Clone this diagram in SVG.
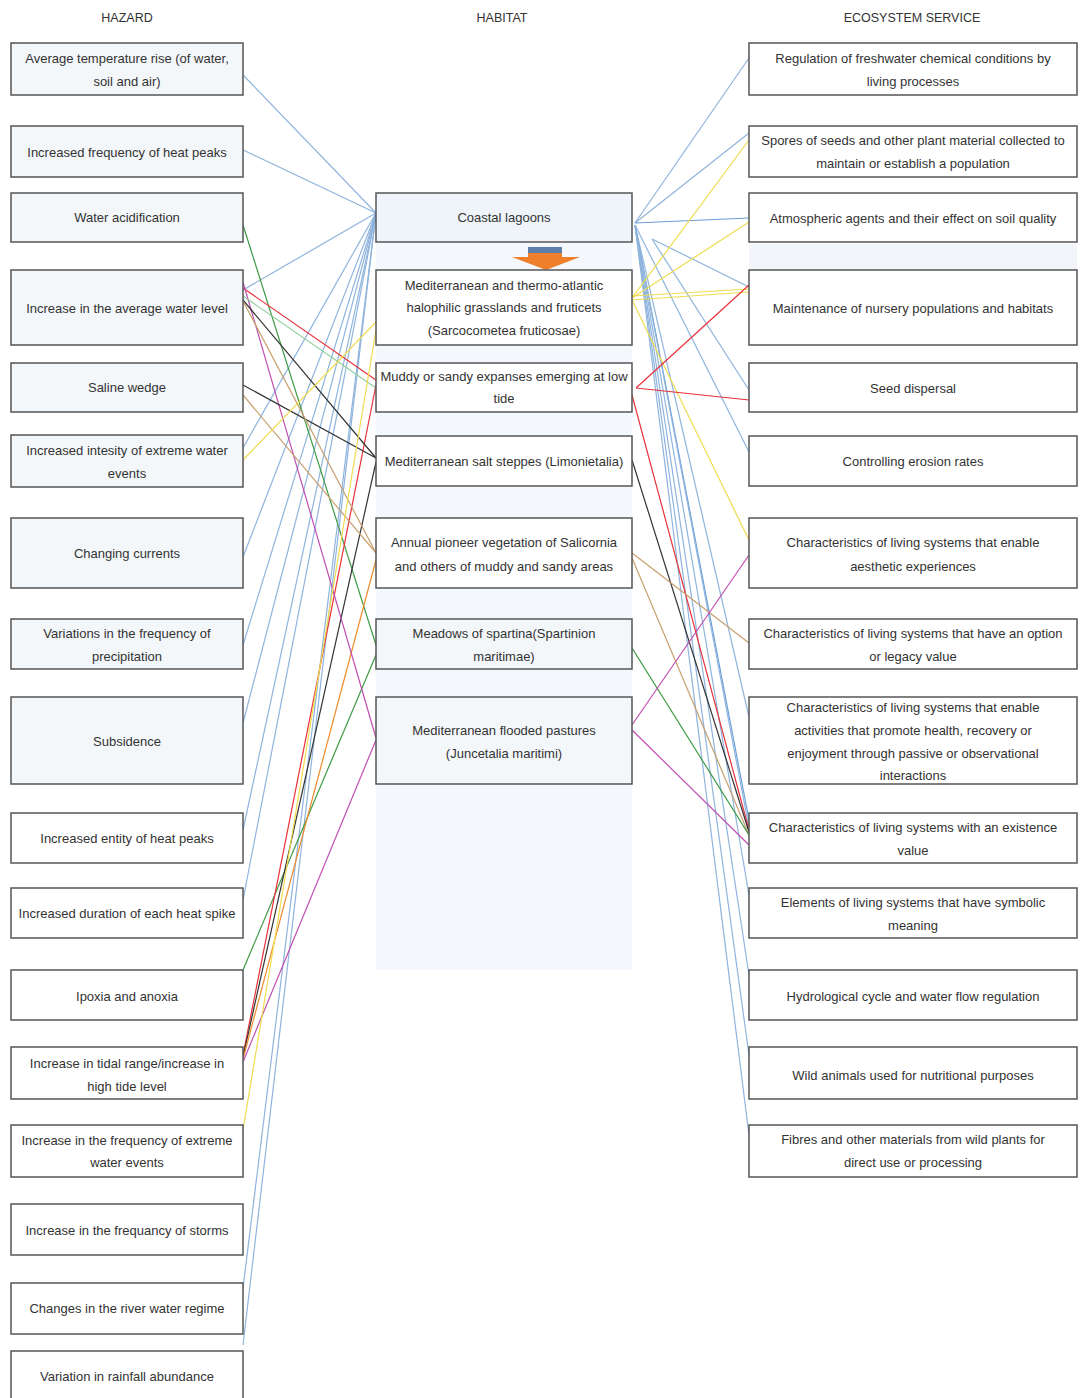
<svg xmlns="http://www.w3.org/2000/svg" width="1080" height="1398" viewBox="0 0 1080 1398">
<style>
text{font-family:"Liberation Sans",Arial,sans-serif;font-size:13px;fill:#333;text-anchor:middle;dominant-baseline:central}
.h{font-size:12.5px}
.box{stroke:#555;stroke-width:1.5;fill:#fff}
.lt{fill:#f4f7fa}
.lb{fill:#eef4fa}
#connectors line{stroke-width:1.2;fill:none}
.b{stroke:#8fb4dd}
.bd{stroke:#6a9fd8}
.g{stroke:#3f9a45}
.lg{stroke:#8fcf9a}
.r{stroke:#e8323a}
.k{stroke:#333}
.t{stroke:#c9a070}
.o{stroke:#ee8a2a}
.m{stroke:#c04fb0}
.y{stroke:#f0dc50}
</style>
<rect width="1080" height="1398" fill="#fff"/>
<rect x="376" y="242" width="256" height="728" fill="#f4f8fc"/>
<rect x="749" y="244" width="328" height="26" fill="#f2f6fb"/>
<text class="h" x="127" y="18">HAZARD</text>
<text class="h" x="502" y="18">HABITAT</text>
<text class="h" x="912" y="18">ECOSYSTEM SERVICE</text>

<g id="connectors">
<line class="b" x1="243" y1="75" x2="376" y2="213"/>
<line class="b" x1="243" y1="150" x2="376" y2="213"/>
<line class="b" x1="243" y1="290" x2="376" y2="213"/>
<line class="b" x1="243" y1="448" x2="376" y2="213"/>
<line class="b" x1="243" y1="557" x2="376" y2="213"/>
<line class="b" x1="243" y1="645" x2="376" y2="213"/>
<line class="b" x1="243" y1="723" x2="376" y2="213"/>
<line class="b" x1="243" y1="830" x2="376" y2="213"/>
<line class="b" x1="243" y1="900" x2="376" y2="213"/>
<line class="b" x1="243" y1="1288" x2="376" y2="213"/>
<line class="b" x1="243" y1="1345" x2="376" y2="213"/>
<line class="g" x1="243" y1="225" x2="376" y2="645"/>
<line class="g" x1="243" y1="970" x2="376" y2="655"/>
<line class="r" x1="243" y1="288" x2="376" y2="380"/>
<line class="r" x1="243" y1="1055" x2="376" y2="385"/>
<line class="k" x1="243" y1="1057" x2="376" y2="462"/>
<line class="o" x1="243" y1="1059" x2="376" y2="560"/>
<line class="m" x1="243" y1="282" x2="376" y2="738"/>
<line class="m" x1="243" y1="1062" x2="376" y2="740"/>
<line class="k" x1="243" y1="300" x2="376" y2="458"/>
<line class="k" x1="243" y1="385" x2="376" y2="458"/>
<line class="t" x1="243" y1="301" x2="376" y2="553"/>
<line class="t" x1="243" y1="395" x2="376" y2="553"/>
<line class="lg" x1="243" y1="296" x2="376" y2="388"/>
<line class="y" x1="243" y1="460" x2="376" y2="322"/>
<line class="y" x1="243" y1="1130" x2="376" y2="330"/>
<line class="b" x1="635" y1="223" x2="749" y2="58"/>
<line class="b" x1="635" y1="223" x2="749" y2="133"/>
<line class="bd" x1="635" y1="223" x2="749" y2="218"/>
<line class="b" x1="652" y1="239" x2="749" y2="287"/>
<line class="b" x1="652" y1="239" x2="749" y2="390"/>
<line class="b" x1="635" y1="225" x2="749" y2="452"/>
<line class="b" x1="635" y1="225" x2="749" y2="717"/>
<line class="bd" x1="635" y1="225" x2="749" y2="820"/>
<line class="b" x1="635" y1="225" x2="749" y2="828"/>
<line class="b" x1="635" y1="225" x2="749" y2="895"/>
<line class="b" x1="635" y1="225" x2="749" y2="975"/>
<line class="b" x1="635" y1="225" x2="749" y2="1055"/>
<line class="b" x1="635" y1="225" x2="749" y2="1135"/>
<line class="y" x1="632" y1="298" x2="749" y2="140"/>
<line class="y" x1="632" y1="298" x2="749" y2="222"/>
<line class="y" x1="632" y1="296" x2="749" y2="289"/>
<line class="y" x1="632" y1="300" x2="749" y2="292"/>
<line class="y" x1="632" y1="300" x2="749" y2="540"/>
<line class="r" x1="636" y1="388" x2="749" y2="285"/>
<line class="r" x1="636" y1="388" x2="749" y2="400"/>
<line class="r" x1="632" y1="395" x2="749" y2="830"/>
<line class="k" x1="632" y1="460" x2="749" y2="832"/>
<line class="t" x1="632" y1="553" x2="749" y2="643"/>
<line class="t" x1="632" y1="558" x2="749" y2="835"/>
<line class="g" x1="632" y1="648" x2="749" y2="835"/>
<line class="m" x1="632" y1="725" x2="749" y2="555"/>
<line class="m" x1="632" y1="730" x2="749" y2="845"/>
</g>

<g id="hazard-1"><rect class="box lt" x="11" y="43" width="232" height="52"/><text x="127" y="58">Average temperature rise (of water,</text><text x="127" y="81">soil and air)</text></g>
<g id="hazard-2"><rect class="box lt" x="11" y="126" width="232" height="51"/><text x="127" y="152">Increased frequency of heat peaks</text></g>
<g id="hazard-3"><rect class="box lt" x="11" y="193" width="232" height="49"/><text x="127" y="217">Water acidification</text></g>
<g id="hazard-4"><rect class="box lt" x="11" y="270" width="232" height="75"/><text x="127" y="308">Increase in the average water level</text></g>
<g id="hazard-5"><rect class="box lt" x="11" y="363" width="232" height="49"/><text x="127" y="387">Saline wedge</text></g>
<g id="hazard-6"><rect class="box lt" x="11" y="435" width="232" height="52"/><text x="127" y="450">Increased intesity of extreme water</text><text x="127" y="473">events</text></g>
<g id="hazard-7"><rect class="box lt" x="11" y="518" width="232" height="70"/><text x="127" y="553">Changing currents</text></g>
<g id="hazard-8"><rect class="box lt" x="11" y="619" width="232" height="50"/><text x="127" y="633">Variations in the frequency of</text><text x="127" y="656">precipitation</text></g>
<g id="hazard-9"><rect class="box lt" x="11" y="697" width="232" height="87"/><text x="127" y="741">Subsidence</text></g>
<g id="hazard-10"><rect class="box" x="11" y="813" width="232" height="50"/><text x="127" y="838">Increased entity of heat peaks</text></g>
<g id="hazard-11"><rect class="box" x="11" y="888" width="232" height="50"/><text x="127" y="913">Increased duration of each heat spike</text></g>
<g id="hazard-12"><rect class="box" x="11" y="970" width="232" height="50"/><text x="127" y="996">Ipoxia and anoxia</text></g>
<g id="hazard-13"><rect class="box" x="11" y="1047" width="232" height="52"/><text x="127" y="1063">Increase in tidal range/increase in</text><text x="127" y="1086">high tide level</text></g>
<g id="hazard-14"><rect class="box" x="11" y="1125" width="232" height="52"/><text x="127" y="1140">Increase in the frequency of extreme</text><text x="127" y="1162">water events</text></g>
<g id="hazard-15"><rect class="box" x="11" y="1204" width="232" height="51"/><text x="127" y="1230">Increase in the frequancy of storms</text></g>
<g id="hazard-16"><rect class="box" x="11" y="1283" width="232" height="51"/><text x="127" y="1308">Changes in the river water regime</text></g>
<g id="hazard-17"><rect class="box" x="11" y="1351" width="232" height="60"/><text x="127" y="1376">Variation in rainfall abundance</text></g>

<g id="habitat-1"><rect class="box lb" x="376" y="193" width="256" height="49"/><text x="504" y="217">Coastal lagoons</text></g>
<g id="arrow"><rect x="528" y="247" width="34" height="6" fill="#5b7fa8"/><rect x="528" y="253" width="34" height="5" fill="#f07f2c"/><polygon points="512,257 580,257 546,270" fill="#f07f2c"/></g>
<g id="habitat-2"><rect class="box" x="376" y="270" width="256" height="75"/><text x="504" y="285">Mediterranean and thermo-atlantic</text><text x="504" y="307">halophilic grasslands and fruticets</text><text x="504" y="330">(Sarcocometea fruticosae)</text></g>
<g id="habitat-3"><rect class="box" x="376" y="363" width="256" height="49"/><text x="504" y="376">Muddy or sandy expanses emerging at low</text><text x="504" y="398">tide</text></g>
<g id="habitat-4"><rect class="box" x="376" y="436" width="256" height="50"/><text x="504" y="461">Mediterranean salt steppes (Limonietalia)</text></g>
<g id="habitat-5"><rect class="box" x="376" y="518" width="256" height="70"/><text x="504" y="542">Annual pioneer vegetation of Salicornia</text><text x="504" y="566">and others of muddy and sandy areas</text></g>
<g id="habitat-6"><rect class="box lt" x="376" y="619" width="256" height="50"/><text x="504" y="633">Meadows of spartina(Spartinion</text><text x="504" y="656">maritimae)</text></g>
<g id="habitat-7"><rect class="box lt" x="376" y="697" width="256" height="87"/><text x="504" y="730">Mediterranean flooded pastures</text><text x="504" y="753">(Juncetalia maritimi)</text></g>

<g id="service-1"><rect class="box" x="749" y="43" width="328" height="52"/><text x="913" y="58">Regulation of freshwater chemical conditions by</text><text x="913" y="81">living processes</text></g>
<g id="service-2"><rect class="box" x="749" y="126" width="328" height="51"/><text x="913" y="140">Spores of seeds and other plant material collected to</text><text x="913" y="163">maintain or establish a population</text></g>
<g id="service-3"><rect class="box" x="749" y="193" width="328" height="49"/><text x="913" y="218">Atmospheric agents and their effect on soil quality</text></g>
<g id="service-4"><rect class="box" x="749" y="270" width="328" height="75"/><text x="913" y="308">Maintenance of nursery populations and habitats</text></g>
<g id="service-5"><rect class="box" x="749" y="363" width="328" height="49"/><text x="913" y="388">Seed dispersal</text></g>
<g id="service-6"><rect class="box" x="749" y="436" width="328" height="50"/><text x="913" y="461">Controlling erosion rates</text></g>
<g id="service-7"><rect class="box" x="749" y="518" width="328" height="70"/><text x="913" y="542">Characteristics of living systems that enable</text><text x="913" y="566">aesthetic experiences</text></g>
<g id="service-8"><rect class="box" x="749" y="619" width="328" height="50"/><text x="913" y="633">Characteristics of living systems that have an option</text><text x="913" y="656">or legacy value</text></g>
<g id="service-9"><rect class="box" x="749" y="697" width="328" height="87"/><text x="913" y="707">Characteristics of living systems that enable</text><text x="913" y="730">activities that promote health, recovery or</text><text x="913" y="753">enjoyment through passive or observational</text><text x="913" y="775">interactions</text></g>
<g id="service-10"><rect class="box" x="749" y="813" width="328" height="50"/><text x="913" y="827">Characteristics of living systems with an existence</text><text x="913" y="850">value</text></g>
<g id="service-11"><rect class="box" x="749" y="888" width="328" height="50"/><text x="913" y="902">Elements of living systems that have symbolic</text><text x="913" y="925">meaning</text></g>
<g id="service-12"><rect class="box" x="749" y="970" width="328" height="50"/><text x="913" y="996">Hydrological cycle and water flow regulation</text></g>
<g id="service-13"><rect class="box" x="749" y="1047" width="328" height="52"/><text x="913" y="1075">Wild animals used for nutritional purposes</text></g>
<g id="service-14"><rect class="box" x="749" y="1125" width="328" height="52"/><text x="913" y="1139">Fibres and other materials from wild plants for</text><text x="913" y="1162">direct use or processing</text></g>
</svg>
